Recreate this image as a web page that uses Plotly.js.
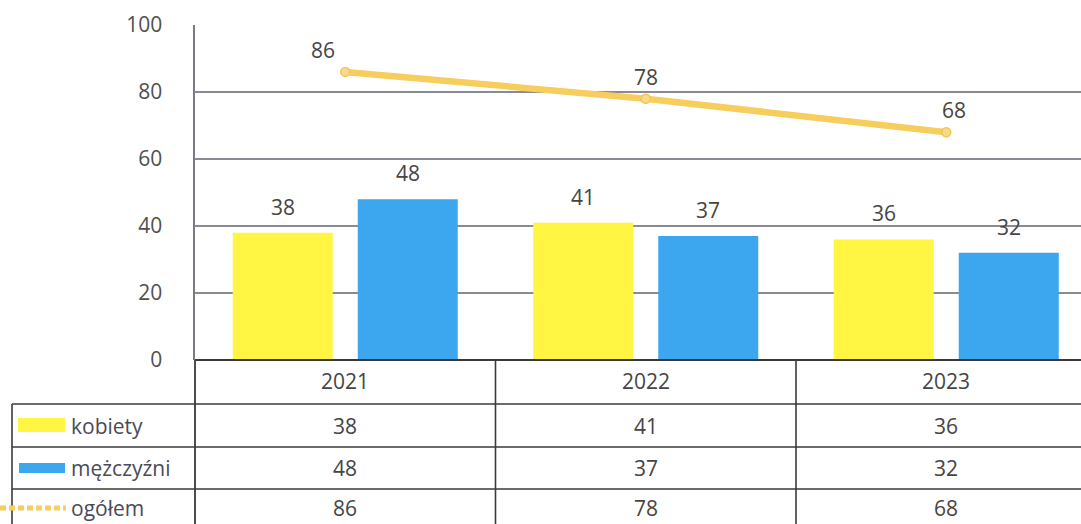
<!DOCTYPE html>
<html>
<head>
<meta charset="utf-8">
<script src="https://cdn.plot.ly/plotly-3.0.1.min.js"></script>
<style>html,body{margin:0;padding:0;background:#fff;}#chart{width:1081px;height:524px;}</style>
</head>
<body>
<div id="chart"></div>
<script>
// ---- data ----
const years = ["2021", "2022", "2023"];
const seriesNames = ["kobiety", "mężczyźni", "ogółem"];
const kobiety = [38, 41, 36];
const mezczyzni = [48, 37, 32];
const ogolem = [86, 78, 68];
const yTicks = [0, 20, 40, 60, 80, 100];

// ---- style ----
const C_YEL = "#FFF542", C_BLUE = "#3CA6EE", C_LINE = "#F7CD5E";
const TXT = "#454545";
const FONT = "Open Sans, Liberation Sans, sans-serif";
const FS = 21;
const W = 1081, H = 524, ML = 195, MT = 25, MB = 164;
const plotW = W - ML, plotH = H - MT - MB;
const catPx = 300.5;
const xr = [-0.5, -0.5 + plotW / catPx];
const bargap = 0.168, bargroupgap = 0.2;
const slot = (1 - bargap) / 2;
const offs = [-slot / 2, slot / 2];

const xs = years.map((_, i) => i);
const px2py = p => (H - MB - p) / plotH;       // pixel y -> paper y
const px2px = p => (p - ML) / plotW;           // pixel x -> paper x
const d2px = x => (x - xr[0]) / (xr[1] - xr[0]); // data x -> paper x

const traces = [
  {type: "bar", name: seriesNames[0], x: xs, y: kobiety, marker: {color: C_YEL}, hoverinfo: "none"},
  {type: "bar", name: seriesNames[1], x: xs, y: mezczyzni, marker: {color: C_BLUE}, hoverinfo: "none"},
  {type: "scatter", mode: "lines+markers", name: seriesNames[2], x: xs, y: ogolem,
   line: {color: C_LINE, width: 6.5}, marker: {size: 9, color: "#F9D98A", line: {color: "#F2C45A", width: 1.5}},
   hoverinfo: "none"}
];

const ann = [];
// bar value labels
[kobiety, mezczyzni].forEach((arr, s) => {
  arr.forEach((v, i) => ann.push({x: i + offs[s], y: v, xref: "x", yref: "y", text: String(v),
    showarrow: false, yanchor: "middle", yshift: 26, font: {size: FS, color: TXT, family: FONT}}));
});
// line value labels
const lineXShift = [-22, 0, 8];
ogolem.forEach((v, i) => ann.push({x: i, y: v, xref: "x", yref: "y", text: String(v),
  showarrow: false, yanchor: "middle", yshift: 22, xshift: lineXShift[i], font: {size: FS, color: TXT, family: FONT}}));

// table
const headerY = px2py(381);
const rowY = [px2py(425.5), px2py(468), px2py(508)];
const rows = [kobiety, mezczyzni, ogolem];
years.forEach((yr, i) => ann.push({x: i, y: headerY, xref: "x", yref: "paper", text: yr, showarrow: false,
  yanchor: "middle", font: {size: FS, color: TXT, family: FONT}}));
rows.forEach((arr, r) => arr.forEach((v, i) => ann.push({x: i, y: rowY[r], xref: "x", yref: "paper",
  text: String(v), showarrow: false, yanchor: "middle", font: {size: FS, color: TXT, family: FONT}})));
seriesNames.forEach((n, r) => ann.push({x: px2px(69), y: rowY[r], xref: "paper", yref: "paper", text: n,
  showarrow: false, xanchor: "left", yanchor: "middle", font: {size: FS, color: "#4a4a5a", family: FONT}}));

const LC = "#3a3a3a";
const shapes = [];
const hline = (x0p, x1p, yp, w) => shapes.push({type: "line", xref: "paper", yref: "paper",
  x0: px2px(x0p), x1: px2px(x1p), y0: px2py(yp), y1: px2py(yp), line: {color: LC, width: w || 1.6}});
const vline = (xp, y0p, y1p, w, c) => shapes.push({type: "line", xref: "paper", yref: "paper",
  x0: xp, x1: xp, y0: px2py(y0p), y1: px2py(y1p), line: {color: c || LC, width: w || 1.6}});
hline(12, W + 5, 404);
hline(12, W + 5, 447);
hline(12, W + 5, 489);
vline(px2px(12), 404, H + 5);
vline(0, 360, H + 5, 1.8);
vline(d2px(0.5), 360, H + 5);
vline(d2px(1.5), 360, H + 5);
hline(195, W + 5, 360, 2.2);
// legend keys
shapes.push({type: "rect", xref: "paper", yref: "paper", x0: px2px(18), x1: px2px(65), y0: px2py(432), y1: px2py(418),
  line: {width: 0}, fillcolor: C_YEL});
shapes.push({type: "rect", xref: "paper", yref: "paper", x0: px2px(19), x1: px2px(65), y0: px2py(473), y1: px2py(463),
  line: {width: 0}, fillcolor: C_BLUE});
shapes.push({type: "line", xref: "paper", yref: "paper", x0: px2px(0), x1: px2px(66), y0: px2py(508), y1: px2py(508),
  line: {color: C_LINE, width: 5, dash: "6px,3px"}});

const layout = {
  width: W, height: H,
  margin: {l: ML, r: 0, t: MT, b: MB, pad: 0},
  paper_bgcolor: "#fff", plot_bgcolor: "#fff",
  barmode: "group", bargap: bargap, bargroupgap: bargroupgap,
  showlegend: false,
  font: {family: FONT, size: FS, color: TXT},
  xaxis: {range: xr, showticklabels: false, showgrid: false, zeroline: false, fixedrange: true, ticks: ""},
  yaxis: {range: [0, 100], tickvals: yTicks, ticktext: yTicks.map(String), showgrid: true,
    gridcolor: "#8a8a94", gridwidth: 1.4, zeroline: false, showline: true, linecolor: "#7a7a84", linewidth: 1.6,
    ticks: "outside", ticklen: 27, tickcolor: "rgba(0,0,0,0)", tickfont: {size: FS, color: "#505050", family: FONT},
    fixedrange: true},
  annotations: ann,
  shapes: shapes
};

Plotly.newPlot("chart", traces, layout, {displayModeBar: false, staticPlot: true});
</script>
</body>
</html>
